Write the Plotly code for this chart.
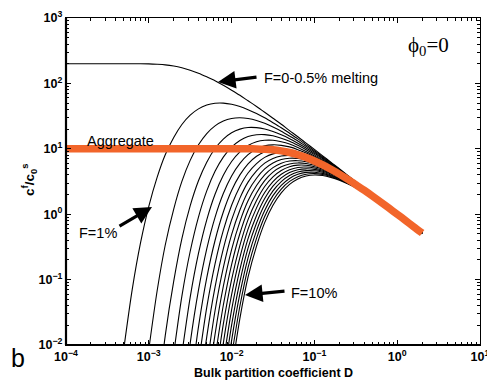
import plotly.graph_objects as go

# Bulk partition coefficient grid (shared x values; every curve ends at D = 2)
D_GRID = [0.0001, 0.000126, 0.000158, 0.0002, 0.000251, 0.000316, 0.000398, 0.000501, 0.000631, 0.000794,
          0.001, 0.00126, 0.00158, 0.002, 0.00251, 0.00316, 0.00398, 0.00501, 0.00631, 0.00794,
          0.01, 0.0126, 0.0158, 0.02, 0.0251, 0.0316, 0.0398, 0.0501, 0.0631, 0.0794,
          0.1, 0.126, 0.158, 0.2, 0.251, 0.316, 0.398, 0.501, 0.631, 0.794,
          1.0, 1.26, 1.58, 2.0]

# c^f/c0^s (aligned to the END of D_GRID)
melt_0_05 = [200, 200, 200, 200, 200, 200, 200, 200, 200, 200, 199, 196, 192, 184, 173, 159, 143, 126, 110, 93.6,
             78.8, 65.7, 54.2, 44.4, 36.2, 29.3, 23.7, 19, 15.3, 12.2, 9.78, 7.81, 6.23, 4.96, 3.95, 3.15, 2.5,
             1.99, 1.58, 1.26, 1, 0.795, 0.632, 0.502]
F_010 = [0.00907, 0.0709, 0.363, 1.32, 3.66, 8.11, 14.9, 23.5, 32.7, 40.8, 46.6, 49.7, 50, 47.9, 44.3, 39.7, 34.7,
         29.8, 25.1, 21, 17.3, 14.2, 11.5, 9.35, 7.54, 6.06, 4.86, 3.89, 3.11, 2.48, 1.98, 1.58, 1.26, 1, 0.796,
         0.633, 0.503]
F_015 = [0.00858, 0.067, 0.338, 1.2, 3.17, 6.65, 11.5, 17.1, 22.4, 26.6, 29.1, 29.8, 29, 27.1, 24.5, 21.5, 18.6,
         15.7, 13.2, 10.9, 8.93, 7.28, 5.9, 4.77, 3.83, 3.08, 2.46, 1.97, 1.57, 1.25, 1, 0.796, 0.634, 0.504]
F_020 = [0.0012, 0.0139, 0.0946, 0.423, 1.34, 3.24, 6.25, 10.1, 14.1, 17.6, 20, 21.2, 21.1, 20.1, 18.4, 16.4, 14.3,
         12.2, 10.3, 8.53, 7.03, 5.75, 4.67, 3.78, 3.04, 2.45, 1.96, 1.57, 1.25, 1, 0.797, 0.635, 0.506]
F_025 = [0.00739, 0.0559, 0.269, 0.905, 2.27, 4.52, 7.46, 10.6, 13.4, 15.4, 16.4, 16.5, 15.8, 14.5, 13, 11.3, 9.67,
         8.15, 6.78, 5.59, 4.57, 3.72, 3.01, 2.43, 1.95, 1.56, 1.25, 1, 0.798, 0.636, 0.507]
F_030 = [0.00731, 0.0536, 0.251, 0.821, 2.02, 3.93, 6.39, 8.98, 11.2, 12.8, 13.5, 13.5, 12.8, 11.8, 10.5, 9.11, 7.78,
         6.55, 5.44, 4.48, 3.66, 2.98, 2.41, 1.94, 1.56, 1.25, 1, 0.799, 0.637, 0.508]
F_035 = [0.00095, 0.0106, 0.0691, 0.295, 0.895, 2.07, 3.84, 5.99, 8.14, 9.92, 11.1, 11.5, 11.3, 10.7, 9.71, 8.59,
         7.43, 6.32, 5.29, 4.39, 3.61, 2.94, 2.39, 1.93, 1.55, 1.25, 1, 0.8, 0.639, 0.51]
F_040 = [0.00206, 0.0189, 0.106, 0.396, 1.08, 2.3, 3.99, 5.9, 7.69, 9.05, 9.82, 10, 9.67, 8.99, 8.09, 7.09, 6.09,
         5.15, 4.3, 3.55, 2.91, 2.37, 1.92, 1.55, 1.25, 1, 0.801, 0.64, 0.511]
F_045 = [0.00515, 0.0376, 0.174, 0.565, 1.37, 2.65, 4.27, 5.95, 7.39, 8.37, 8.82, 8.76, 8.32, 7.61, 6.77, 5.88,
         5.01, 4.21, 3.5, 2.88, 2.35, 1.91, 1.55, 1.24, 1, 0.801, 0.641, 0.512]
F_050 = [0.0014, 0.0133, 0.0765, 0.294, 0.817, 1.76, 3.09, 4.6, 6.03, 7.13, 7.77, 7.94, 7.7, 7.16, 6.45, 5.67, 4.87,
         4.12, 3.44, 2.85, 2.33, 1.9, 1.54, 1.24, 1, 0.802, 0.642, 0.514]
F_055 = [0.00468, 0.0334, 0.152, 0.486, 1.16, 2.23, 3.55, 4.92, 6.07, 6.85, 7.18, 7.12, 6.74, 6.16, 5.46, 4.74,
         4.04, 3.39, 2.81, 2.32, 1.89, 1.54, 1.24, 1, 0.803, 0.644, 0.515]
F_060 = [0.00165, 0.0145, 0.0787, 0.288, 0.769, 1.6, 2.74, 4, 5.16, 6.03, 6.5, 6.58, 6.34, 5.87, 5.27, 4.61, 3.95,
         3.34, 2.78, 2.3, 1.88, 1.53, 1.24, 1, 0.804, 0.645, 0.516]
F_065 = [0.00629, 0.0405, 0.17, 0.507, 1.15, 2.11, 3.26, 4.39, 5.3, 5.87, 6.08, 5.96, 5.59, 5.07, 4.48, 3.87, 3.28,
         2.75, 2.28, 1.87, 1.53, 1.24, 1, 0.805, 0.646, 0.518]
F_070 = [0.00271, 0.0208, 0.1, 0.333, 0.827, 1.62, 2.65, 3.72, 4.66, 5.31, 5.62, 5.6, 5.33, 4.89, 4.35, 3.79, 3.23,
         2.72, 2.26, 1.86, 1.52, 1.24, 1, 0.806, 0.647, 0.519]
F_075 = [0.00116, 0.0106, 0.0588, 0.219, 0.592, 1.25, 2.15, 3.16, 4.09, 4.79, 5.19, 5.26, 5.08, 4.71, 4.23, 3.71,
         3.18, 2.69, 2.24, 1.85, 1.52, 1.23, 1, 0.807, 0.649, 0.52]
F_080 = [0.0054, 0.0344, 0.143, 0.423, 0.956, 1.74, 2.68, 3.59, 4.33, 4.79, 4.94, 4.84, 4.54, 4.11, 3.63, 3.13,
         2.66, 2.22, 1.84, 1.51, 1.23, 1, 0.808, 0.65, 0.522]
F_085 = [0.00274, 0.0201, 0.0934, 0.302, 0.732, 1.41, 2.27, 3.15, 3.9, 4.41, 4.64, 4.61, 4.37, 3.99, 3.55, 3.08,
         2.63, 2.21, 1.83, 1.51, 1.23, 1, 0.809, 0.651, 0.523]
F_090 = [0.0014, 0.0117, 0.0608, 0.215, 0.56, 1.14, 1.92, 2.76, 3.52, 4.07, 4.36, 4.39, 4.21, 3.88, 3.47, 3.03,
         2.59, 2.19, 1.82, 1.5, 1.23, 1, 0.809, 0.653, 0.525]
F_095 = [0.00679, 0.0395, 0.153, 0.427, 0.922, 1.62, 2.42, 3.17, 3.75, 4.09, 4.18, 4.05, 3.77, 3.4, 2.98, 2.56,
         2.17, 1.81, 1.5, 1.23, 1, 0.81, 0.654, 0.526]
F_100 = [0.00393, 0.0256, 0.109, 0.326, 0.744, 1.37, 2.12, 2.86, 3.46, 3.83, 3.97, 3.9, 3.66, 3.32, 2.93, 2.53,
         2.15, 1.8, 1.49, 1.23, 1, 0.811, 0.655, 0.528]
aggregate = [10, 10, 10, 10, 10, 10, 10, 10, 10, 10, 10, 10, 10, 10, 10, 10, 10, 10, 10, 10, 10, 10,
             9.99, 9.95, 9.85, 9.64, 9.29, 8.78, 8.12, 7.35, 6.51, 5.67, 4.86, 4.1, 3.43, 2.83, 2.33, 1.9,
             1.54, 1.24, 1, 0.803, 0.643, 0.514]

X_TICKS = [1e-4, 1e-3, 1e-2, 1e-1, 1, 10]
X_TICK_TEXT = ["10<sup>−4</sup>", "10<sup>−3</sup>", "10<sup>−2</sup>", "10<sup>−1</sup>", "10<sup>0</sup>", "10<sup>1</sup>"]
Y_TICKS = [1e-2, 1e-1, 1, 10, 100, 1000]
Y_TICK_TEXT = ["10<sup>−2</sup>", "10<sup>−1</sup>", "10<sup>0</sup>", "10<sup>1</sup>", "10<sup>2</sup>", "10<sup>3</sup>"]

black_curves = [melt_0_05, F_010, F_015, F_020, F_025, F_030, F_035, F_040, F_045, F_050,
                F_055, F_060, F_065, F_070, F_075, F_080, F_085, F_090, F_095, F_100]

fig = go.Figure()
for vals in black_curves:
    fig.add_trace(go.Scatter(x=D_GRID[-len(vals):], y=vals, mode='lines',
                             line=dict(color='black', width=1.1, shape='spline', smoothing=0.8),
                             hoverinfo='skip'))
fig.add_trace(go.Scatter(x=D_GRID[-len(aggregate):], y=aggregate, mode='lines',
                         line=dict(color='#f2652a', width=7.5, shape='spline', smoothing=0.8)))

FONT = "Liberation Sans, Arial, Helvetica, sans-serif"
L, R, T, B = 66, 480, 18, 345
W, H = 487, 382


def px(x):
    return (x - L) / (R - L)


def py(y):
    return (B - y) / (B - T)


axis_common = dict(type='log', showline=True, linecolor='black', linewidth=1.2, mirror='allticks',
                   ticks='inside', ticklen=5, tickwidth=1, tickcolor='black', showgrid=False, zeroline=False,
                   tickmode='array', tickfont=dict(family=FONT, size=12.5, color='black'),
                   ticklabeloverflow='allow',
                   minor=dict(ticks='inside', ticklen=3, tickwidth=1, tickcolor='black', dtick='D1', showgrid=False))

fig.update_xaxes(range=[-4, 1], tickvals=X_TICKS, ticktext=["<b>" + t + "</b>" for t in X_TICK_TEXT], **axis_common)
fig.update_yaxes(range=[-2, 3], tickvals=Y_TICKS, ticktext=["<b>" + t + "</b>" for t in Y_TICK_TEXT], **axis_common)

# heavier left and bottom frame lines
fig.add_shape(type='line', xref='paper', yref='paper', x0=0, x1=1, y0=0, y1=0, line=dict(color='black', width=2.2))
fig.add_shape(type='line', xref='paper', yref='paper', x0=0, x1=0, y0=0, y1=1, line=dict(color='black', width=2.2))

ann = []
txt = dict(family=FONT, size=14.5, color='black')
# texts
ann.append(dict(x=px(262), y=py(78), text="F=0-0.5% melting", xanchor='left', yanchor='middle', font=txt))
ann.append(dict(x=px(85), y=py(141), text="Aggregate", xanchor='left', yanchor='middle', font=txt))
ann.append(dict(x=px(77), y=py(233), text="F=1%", xanchor='left', yanchor='middle', font=txt))
ann.append(dict(x=px(289), y=py(293), text="F=10%", xanchor='left', yanchor='middle', font=txt))
ann.append(dict(x=px(428), y=py(46), text="ϕ<sub>0</sub>=0", xanchor='center', yanchor='middle',
                font=dict(family="Liberation Serif, Times New Roman, serif", size=21, color='black')))
# arrows: (head_x, head_y, tail_x, tail_y) in pixels
for hx, hy, tx, ty in [(218, 82, 258, 77), (152, 207, 118, 227), (245, 295, 286, 291)]:
    ann.append(dict(x=px(hx), y=py(hy), text="", showarrow=True, arrowhead=2, arrowsize=1.1, arrowwidth=3.2,
                    arrowcolor='black', ax=tx - hx, ay=ty - hy, standoff=0, startstandoff=0))
# axis titles and panel label
ann.append(dict(x=px(273), y=py(373), text="<b>Bulk partition coefficient D</b>", xanchor='center',
                yanchor='middle', font=dict(family=FONT, size=12.5, color='black')))
ann.append(dict(x=px(29), y=py(180), text="<b>c<sup>f</sup>/c<sub>0</sub><sup>s</sup></b>", textangle=-90,
                xanchor='center', yanchor='middle', font=dict(family=FONT, size=13.5, color='black')))
ann.append(dict(x=px(18), y=py(358), text="b", xanchor='center', yanchor='middle',
                font=dict(family=FONT, size=25, color='black')))
for a in ann:
    a.setdefault('showarrow', False)
    a['xref'] = 'paper'
    a['yref'] = 'paper'

fig.update_layout(width=W, height=H, margin=dict(l=L, r=W - R, t=T, b=H - B, autoexpand=False),
                  showlegend=False, plot_bgcolor='white', paper_bgcolor='white', annotations=ann,
                  font=dict(family=FONT, color='black'))
fig.write_html("out.html")
